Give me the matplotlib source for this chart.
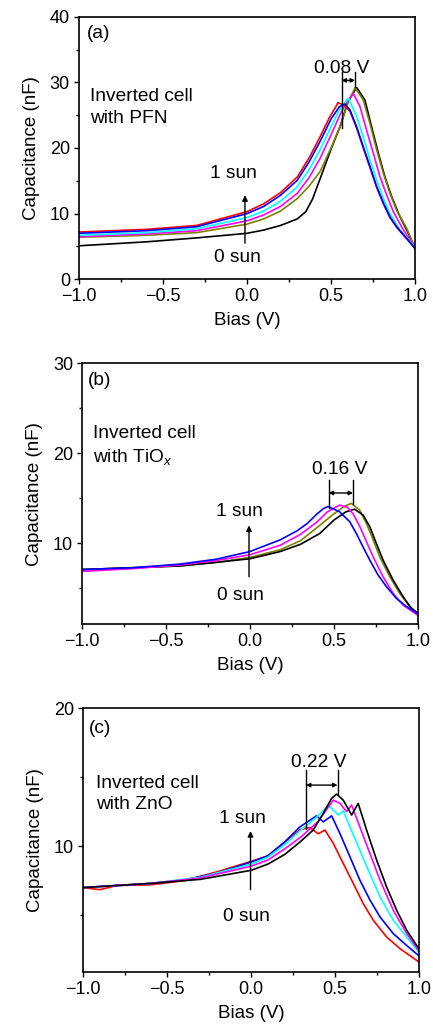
import matplotlib
matplotlib.use('Agg')
import matplotlib.pyplot as plt
from matplotlib.ticker import MultipleLocator

plt.rcParams['font.family'] = ['Liberation Sans', 'DejaVu Sans']
plt.rcParams['mathtext.fontset'] = 'custom'
plt.rcParams['mathtext.rm'] = 'Liberation Sans'
plt.rcParams['mathtext.it'] = 'Liberation Sans:italic'

# ---- panel (a): inverted cell with PFN ----
a_red_x = [-1, -0.6, -0.3, 0, 0.1, 0.2, 0.3, 0.37, 0.435, 0.49, 0.543, 0.58, 0.613, 0.653, 0.692, 0.732, 0.772, 0.812, 0.851, 0.891, 0.95, 1.0]
a_red_y = [7.2, 7.6, 8.2, 10.3, 11.5, 13.2, 15.6, 18.5, 21.7, 24.6, 26.9, 26.5, 25.6, 23.0, 20.0, 17.0, 14.0, 11.5, 9.4, 7.9, 6.2, 4.8]
a_blue_x = [-1, -0.6, -0.3, 0, 0.1, 0.2, 0.3, 0.37, 0.435, 0.5, 0.55, 0.583, 0.613, 0.653, 0.692, 0.732, 0.772, 0.812, 0.851, 0.891, 0.95, 1.0]
a_blue_y = [7.0, 7.4, 8.0, 10.0, 11.1, 12.8, 15.1, 17.9, 21.0, 24.4, 26.3, 26.7, 25.8, 23.2, 20.2, 17.2, 14.1, 11.6, 9.5, 8.0, 6.2, 4.7]
a_cyan_x = [-1, -0.6, -0.3, 0, 0.1, 0.2, 0.3, 0.37, 0.435, 0.5, 0.55, 0.603, 0.653, 0.692, 0.732, 0.772, 0.812, 0.851, 0.911, 1.0]
a_cyan_y = [6.7, 7.1, 7.7, 9.4, 10.4, 11.9, 14.1, 16.7, 19.7, 23.2, 25.8, 27.6, 24.8, 21.7, 18.2, 15.1, 12.3, 10.0, 7.5, 4.9]
a_mag_x = [-1, -0.6, -0.3, 0, 0.1, 0.2, 0.3, 0.37, 0.435, 0.5, 0.56, 0.6, 0.633, 0.673, 0.712, 0.752, 0.792, 0.832, 0.871, 0.931, 1.0]
a_mag_y = [6.5, 6.9, 7.4, 8.9, 9.8, 11.1, 13.1, 15.5, 18.4, 22.0, 25.4, 27.3, 28.3, 26.3, 22.7, 19.2, 15.6, 12.8, 10.3, 7.5, 4.9]
a_olive_x = [-1, -0.6, -0.3, 0, 0.1, 0.2, 0.3, 0.37, 0.435, 0.5, 0.56, 0.6, 0.643, 0.692, 0.732, 0.772, 0.812, 0.851, 0.891, 0.95, 1.0]
a_olive_y = [6.4, 6.7, 7.1, 8.4, 9.2, 10.4, 12.3, 14.2, 16.4, 20.0, 23.6, 26.8, 29.2, 27.3, 23.7, 19.7, 16.1, 13.1, 10.5, 7.8, 4.8]
a_black_x = [-1, -0.6, -0.3, 0, 0.1, 0.2, 0.3, 0.35, 0.39, 0.435, 0.5, 0.553, 0.6, 0.653, 0.702, 0.742, 0.782, 0.821, 0.861, 0.911, 0.96, 1.0]
a_black_y = [5.1, 5.7, 6.3, 7.0, 7.5, 8.2, 9.2, 10.3, 12.2, 15.3, 19.8, 23.2, 27.0, 29.2, 27.3, 23.2, 19.2, 15.6, 12.6, 9.5, 7.0, 4.6]

# ---- panel (b): inverted cell with TiOx ----
b_blue_x = [-1, -0.7, -0.42, -0.2, 0.0, 0.18, 0.28, 0.34, 0.4, 0.44, 0.465, 0.534, 0.594, 0.633, 0.673, 0.713, 0.762, 0.812, 0.871, 0.931, 1.0]
b_blue_y = [7.1, 7.3, 7.7, 8.25, 9.1, 10.4, 11.4, 12.2, 13.3, 13.9, 14.1, 13.5, 12.4, 11.1, 9.6, 8.15, 6.5, 5.2, 3.9, 3.0, 2.2]
b_mag_x = [-1, -0.7, -0.42, -0.2, 0, 0.18, 0.3, 0.4, 0.46, 0.534, 0.58, 0.613, 0.653, 0.693, 0.733, 0.792, 0.852, 0.911, 1.0]
b_mag_y = [6.9, 7.2, 7.6, 8.1, 8.75, 9.8, 11.0, 12.4, 13.5, 14.26, 14.0, 13.3, 11.9, 10.2, 8.5, 6.3, 4.45, 3.15, 2.0]
b_olive_x = [-1, -0.7, -0.42, -0.2, 0.0, 0.18, 0.3, 0.415, 0.5, 0.56, 0.603, 0.653, 0.693, 0.733, 0.772, 0.832, 0.891, 0.951, 1.0]
b_olive_y = [7.1, 7.3, 7.5, 7.9, 8.45, 9.3, 10.3, 12.0, 13.3, 14.1, 14.45, 13.7, 12.2, 10.4, 8.5, 6.3, 4.45, 3.0, 2.2]
b_black_x = [-1, -0.7, -0.42, -0.2, 0.0, 0.18, 0.3, 0.415, 0.5, 0.57, 0.623, 0.673, 0.713, 0.752, 0.792, 0.852, 0.911, 0.96, 1.0]
b_black_y = [7.1, 7.3, 7.5, 7.9, 8.3, 9.1, 9.9, 11.1, 12.6, 13.5, 13.8, 13.15, 11.85, 10.0, 8.15, 5.93, 4.1, 2.8, 2.25]

# ---- panel (c): inverted cell with ZnO ----
c_red_x = [-1, -0.9, -0.8, -0.6, -0.4, -0.2, 0, 0.1, 0.2, 0.291, 0.35, 0.40, 0.44, 0.49, 0.549, 0.609, 0.668, 0.728, 0.807, 0.887, 1.0]
c_red_y = [7.0, 6.85, 7.15, 7.2, 7.5, 8.15, 8.9, 9.3, 10.3, 11.2, 11.36, 10.9, 11.17, 10.2, 8.75, 7.3, 5.84, 4.63, 3.42, 2.57, 1.6]
c_blue_x = [-1, -0.8, -0.6, -0.4, -0.2, 0, 0.1, 0.2, 0.291, 0.39, 0.43, 0.48, 0.53, 0.589, 0.648, 0.708, 0.768, 0.847, 0.927, 1.0]
c_blue_y = [7.0, 7.15, 7.3, 7.55, 8.05, 8.85, 9.3, 10.3, 11.4, 12.2, 11.77, 12.2, 10.9, 9.23, 7.54, 6.1, 4.87, 3.66, 2.8, 2.05]
c_cyan_x = [-1, -0.6, -0.3, 0, 0.1, 0.2, 0.3, 0.4, 0.46, 0.52, 0.549, 0.589, 0.648, 0.708, 0.768, 0.847, 0.927, 1.0]
c_cyan_y = [7.0, 7.3, 7.75, 8.7, 9.2, 10.1, 11.2, 12.2, 12.98, 12.26, 12.57, 11.4, 9.7, 8.0, 6.33, 4.63, 3.42, 2.3]
c_mag_x = [-1, -0.6, -0.3, 0, 0.1, 0.2, 0.3, 0.4, 0.49, 0.53, 0.569, 0.599, 0.648, 0.708, 0.768, 0.847, 0.927, 1.0]
c_mag_y = [7.0, 7.3, 7.7, 8.55, 9.0, 9.8, 10.7, 11.8, 13.34, 13.1, 12.5, 12.98, 11.4, 9.47, 7.54, 5.36, 3.66, 2.4]
c_black_x = [-1, -0.6, -0.3, 0, 0.1, 0.2, 0.291, 0.37, 0.43, 0.48, 0.509, 0.549, 0.599, 0.638, 0.688, 0.748, 0.807, 0.867, 0.927, 1.0]
c_black_y = [7.0, 7.3, 7.6, 8.25, 8.7, 9.4, 10.3, 11.17, 12.38, 13.47, 13.78, 13.34, 12.26, 13.1, 11.17, 8.99, 7.05, 5.36, 3.9, 2.55]

panels = [
    dict(tag='(a)', cell='Inverted cell\nwith PFN', ylim=(0, 40), yticks=[0, 10, 20, 30, 40],
         curves=[(a_black_x, a_black_y, 'black'), (a_olive_x, a_olive_y, '#808000'),
                 (a_mag_x, a_mag_y, '#ff00ff'), (a_cyan_x, a_cyan_y, '#00ffff'),
                 (a_red_x, a_red_y, '#ff0000'), (a_blue_x, a_blue_y, '#0000ff')],
         shift='0.08 V', shift_x=(0.563, 0.643), shift_lo=(23.0, 29.3), shift_top=31.6, shift_arrow_y=30.3,
         shift_text=(0.565, 32.1), one_sun=(-0.082, 16.1), zero_sun=(-0.058, 3.3), arrow=(-0.012, 5.5, 12.8),
         cell_xy=(-0.935, 26.2), tag_xy=(-0.955, 37.4), pos=[0.1824, 0.7294, 0.776, 0.2544]),
    dict(tag='(b)', cell='Inverted cell\nwith TiO$_{\\it{x}}$', ylim=(1.05, 30), yticks=[10, 20, 30],
         curves=[(b_olive_x, b_olive_y, '#808000'), (b_black_x, b_black_y, 'black'),
                 (b_mag_x, b_mag_y, '#ff00ff'), (b_blue_x, b_blue_y, '#0000ff')],
         shift='0.16 V', shift_x=(0.468, 0.613), shift_lo=(13.9, 14.4), shift_top=17.0, shift_arrow_y=15.6,
         shift_text=(0.534, 18.2), one_sun=(-0.065, 13.5), zero_sun=(-0.058, 4.26), arrow=(-0.006, 6.3, 12.0),
         cell_xy=(-0.935, 20.8), tag_xy=(-0.964, 28.1), pos=[0.1894, 0.3953, 0.776, 0.2527]),
    dict(tag='(c)', cell='Inverted cell\nwith ZnO', ylim=(0.9, 20), yticks=[10, 20],
         curves=[(c_red_x, c_red_y, '#ff0000'), (c_blue_x, c_blue_y, '#0000ff'),
                 (c_cyan_x, c_cyan_y, '#00ffff'), (c_mag_x, c_mag_y, '#ff00ff'),
                 (c_black_x, c_black_y, 'black')],
         shift='0.22 V', shift_x=(0.327, 0.515), shift_lo=(11.28, 13.8), shift_top=15.5, shift_arrow_y=14.43,
         shift_text=(0.406, 16.05), one_sun=(-0.053, 12.0), zero_sun=(-0.027, 4.92), arrow=(-0.003, 6.85, 11.1),
         cell_xy=(-0.92, 13.8), tag_xy=(-0.964, 18.55), pos=[0.1917, 0.0584, 0.776, 0.2553]),
]

fig = plt.figure(figsize=(4.33, 10.32), dpi=100)

for p in panels:
    ax = fig.add_axes(p['pos'])
    for xs, ys, col in p['curves']:
        ax.plot(xs, ys, color=col, lw=1.2)

    ax.set_xlim(-1, 1)
    ax.set_ylim(*p['ylim'])
    ax.set_yticks(p['yticks'])
    ax.xaxis.set_major_locator(MultipleLocator(0.5))
    ax.xaxis.set_minor_locator(MultipleLocator(0.25))
    ax.yaxis.set_minor_locator(MultipleLocator(5))
    ax.xaxis.set_major_formatter(plt.FuncFormatter(lambda v, _: f'{v:.1f}'.replace('-', '\u2212')))
    ax.tick_params(which='major', direction='out', length=3.5, width=1, labelsize=13, pad=3)
    ax.tick_params(which='minor', direction='out', length=2, width=1)
    for s in ax.spines.values():
        s.set_linewidth(1.2)
    ax.set_xlabel('Bias (V)', fontsize=13.5, labelpad=5)
    ax.set_ylabel('Capacitance (nF)', fontsize=13.5, labelpad=7)

    # peak-shift marker
    x1, x2 = p['shift_x']
    ax.plot([x1, x1], [p['shift_lo'][0], p['shift_top']], color='k', lw=1)
    ax.plot([x2, x2], [p['shift_lo'][1], p['shift_top']], color='k', lw=1)
    ax.annotate('', xy=(x2, p['shift_arrow_y']), xytext=(x1, p['shift_arrow_y']),
                arrowprops=dict(arrowstyle='<|-|>', color='k', lw=1, mutation_scale=6,
                                shrinkA=0, shrinkB=0))
    ax.text(*p['shift_text'], p['shift'], fontsize=13.8, ha='center', va='center')

    # illumination arrow
    ax_x, y0, y1 = p['arrow']
    ax.annotate('', xy=(ax_x, y1), xytext=(ax_x, y0),
                arrowprops=dict(arrowstyle='-|>', color='k', lw=1, mutation_scale=8,
                                shrinkA=0, shrinkB=0))
    ax.text(*p['one_sun'], '1 sun', fontsize=13.8, ha='center', va='center')
    ax.text(*p['zero_sun'], '0 sun', fontsize=13.8, ha='center', va='center')

    ax.text(*p['cell_xy'], p['cell'], fontsize=13.8, ha='left', va='center', linespacing=1.35)
    ax.text(*p['tag_xy'], p['tag'], fontsize=13.8, ha='left', va='center')

fig.savefig('out.png', dpi=100)
